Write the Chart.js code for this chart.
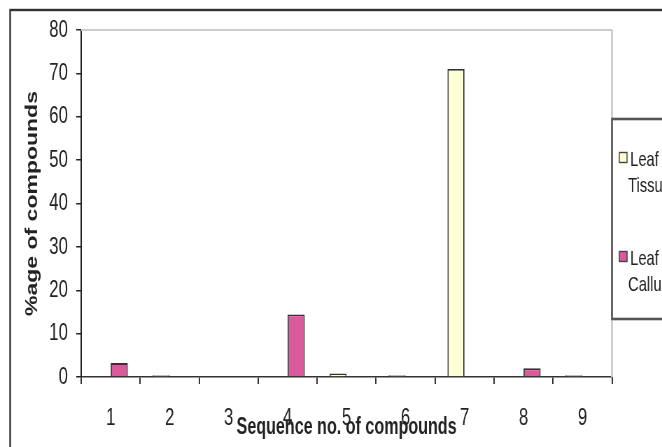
<!DOCTYPE html>
<html><head><meta charset="utf-8">
<script src="https://cdn.jsdelivr.net/npm/chart.js@4.4.1/dist/chart.umd.min.js"></script>
<style>
html,body{margin:0;padding:0;background:#fff;overflow:hidden;width:662px;height:447px}
canvas{display:block;transform:scaleX(0.6998);transform-origin:0 0}
</style>
</head><body>
<canvas id="c" width="946" height="447"></canvas>
<script>
const categories = ['1', '2', '3', '4', '5', '6', '7', '8', '9'];
const seriesNames = ['Leaf Tissue', 'Leaf Callus'];
const leafTissue = [0, 0.4, 0, 0, 0.8, 0.4, 71, 0, 0.4];
const leafCallus = [3.2, 0, 0, 14.4, 0, 0, 0, 2, 0];
const yMin = 0, yMax = 80, yStep = 10;
const xTitle = 'Sequence no. of compounds';
const yTitle = '%age of compounds';

const fam = "'Liberation Sans', Arial, sans-serif";

const framePlugin = {
  id: 'frame',
  beforeDraw(chart) {
    const ctx = chart.ctx;
    ctx.save();
    ctx.fillStyle = '#fff';
    ctx.fillRect(0, 0, chart.width, chart.height);
    ctx.strokeStyle = '#333';
    ctx.lineWidth = 2.4;
    ctx.strokeRect(14.5, 10, chart.width + 50, chart.height + 50);
    ctx.restore();
  },
  beforeDatasetsDraw(chart) {
    const {ctx, chartArea: a} = chart;
    ctx.save();
    ctx.strokeStyle = '#cccccc';
    ctx.lineWidth = 2;
    ctx.beginPath();
    ctx.moveTo(a.left, a.top);
    ctx.lineTo(a.right, a.top);
    ctx.stroke();
    ctx.lineWidth = 2.8;
    ctx.beginPath();
    ctx.moveTo(a.right, a.top);
    ctx.lineTo(a.right, a.bottom);
    ctx.stroke();
    ctx.restore();
  },
  afterDraw(chart) {
    const {ctx, chartArea: a} = chart;
    ctx.save();
    const bx = a.right, by = 119, bh = 200;
    ctx.strokeStyle = '#555';
    ctx.lineWidth = 2.6;
    ctx.strokeRect(bx, by, 300, bh);
    ctx.font = "21px " + fam;
    ctx.textBaseline = 'alphabetic';
    const itemTops = [152, 251];
    chart.data.datasets.forEach((ds, i) => {
      const y0 = itemTops[i];
      ctx.fillStyle = ds.backgroundColor;
      ctx.fillRect(bx + 10, y0, 12, 11);
      ctx.strokeStyle = '#444';
      ctx.lineWidth = 1.4;
      ctx.strokeRect(bx + 10.5, y0 + 0.5, 11, 10);
      ctx.fillStyle = '#222';
      const words = ds.label.split(' ');
      ctx.fillText(words[0], bx + 26, y0 + 14);
      ctx.fillText(words.slice(1).join(' '), bx + 23, y0 + 40);
    });
    ctx.restore();
  }
};

new Chart(document.getElementById('c'), {
  type: 'bar',
  data: {
    labels: categories,
    datasets: [
      {label: seriesNames[0], data: leafTissue, backgroundColor: '#FFFFD6', borderColor: '#333', borderWidth: 1.8, borderSkipped: 'start'},
      {label: seriesNames[1], data: leafCallus, backgroundColor: '#DB5A9B', borderColor: '#333', borderWidth: 1.8, borderSkipped: 'start'}
    ]
  },
  options: {
    responsive: false,
    animation: false,
    devicePixelRatio: 1,
    layout: {padding: {left: 0, top: 30, right: 71.5, bottom: 0}},
    datasets: {bar: {categoryPercentage: 0.58, barPercentage: 1.0}},
    plugins: {legend: {display: false}, tooltip: {enabled: false}},
    scales: {
      x: {
        offset: true,
        grid: {offset: true, drawOnChartArea: false, drawTicks: true, tickLength: 7, color: '#333', lineWidth: 2},
        border: {display: true, color: '#333', width: 1.5},
        ticks: {font: {family: fam, size: 24}, color: '#222', padding: 20, maxRotation: 0, autoSkip: false},
        title: {display: true, text: xTitle, color: '#222', font: {family: fam, size: 23, weight: 'bold'}, padding: {top: 0, bottom: 6}},
        afterFit(s) { s.height = 70; }
      },
      y: {
        min: yMin, max: yMax,
        ticks: {stepSize: yStep, font: {family: fam, size: 24}, color: '#222', padding: 12},
        grid: {drawOnChartArea: false, drawTicks: true, tickLength: 7, color: '#222', lineWidth: 1.5},
        border: {display: true, color: '#222', width: 2},
        title: {display: true, text: yTitle, color: '#222', font: {family: fam, size: 23, weight: 'bold'}, padding: {top: 33, bottom: 0}},
        afterFit(s) { s.width = 116; }
      }
    }
  },
  plugins: [framePlugin]
});
</script>
</body></html>
